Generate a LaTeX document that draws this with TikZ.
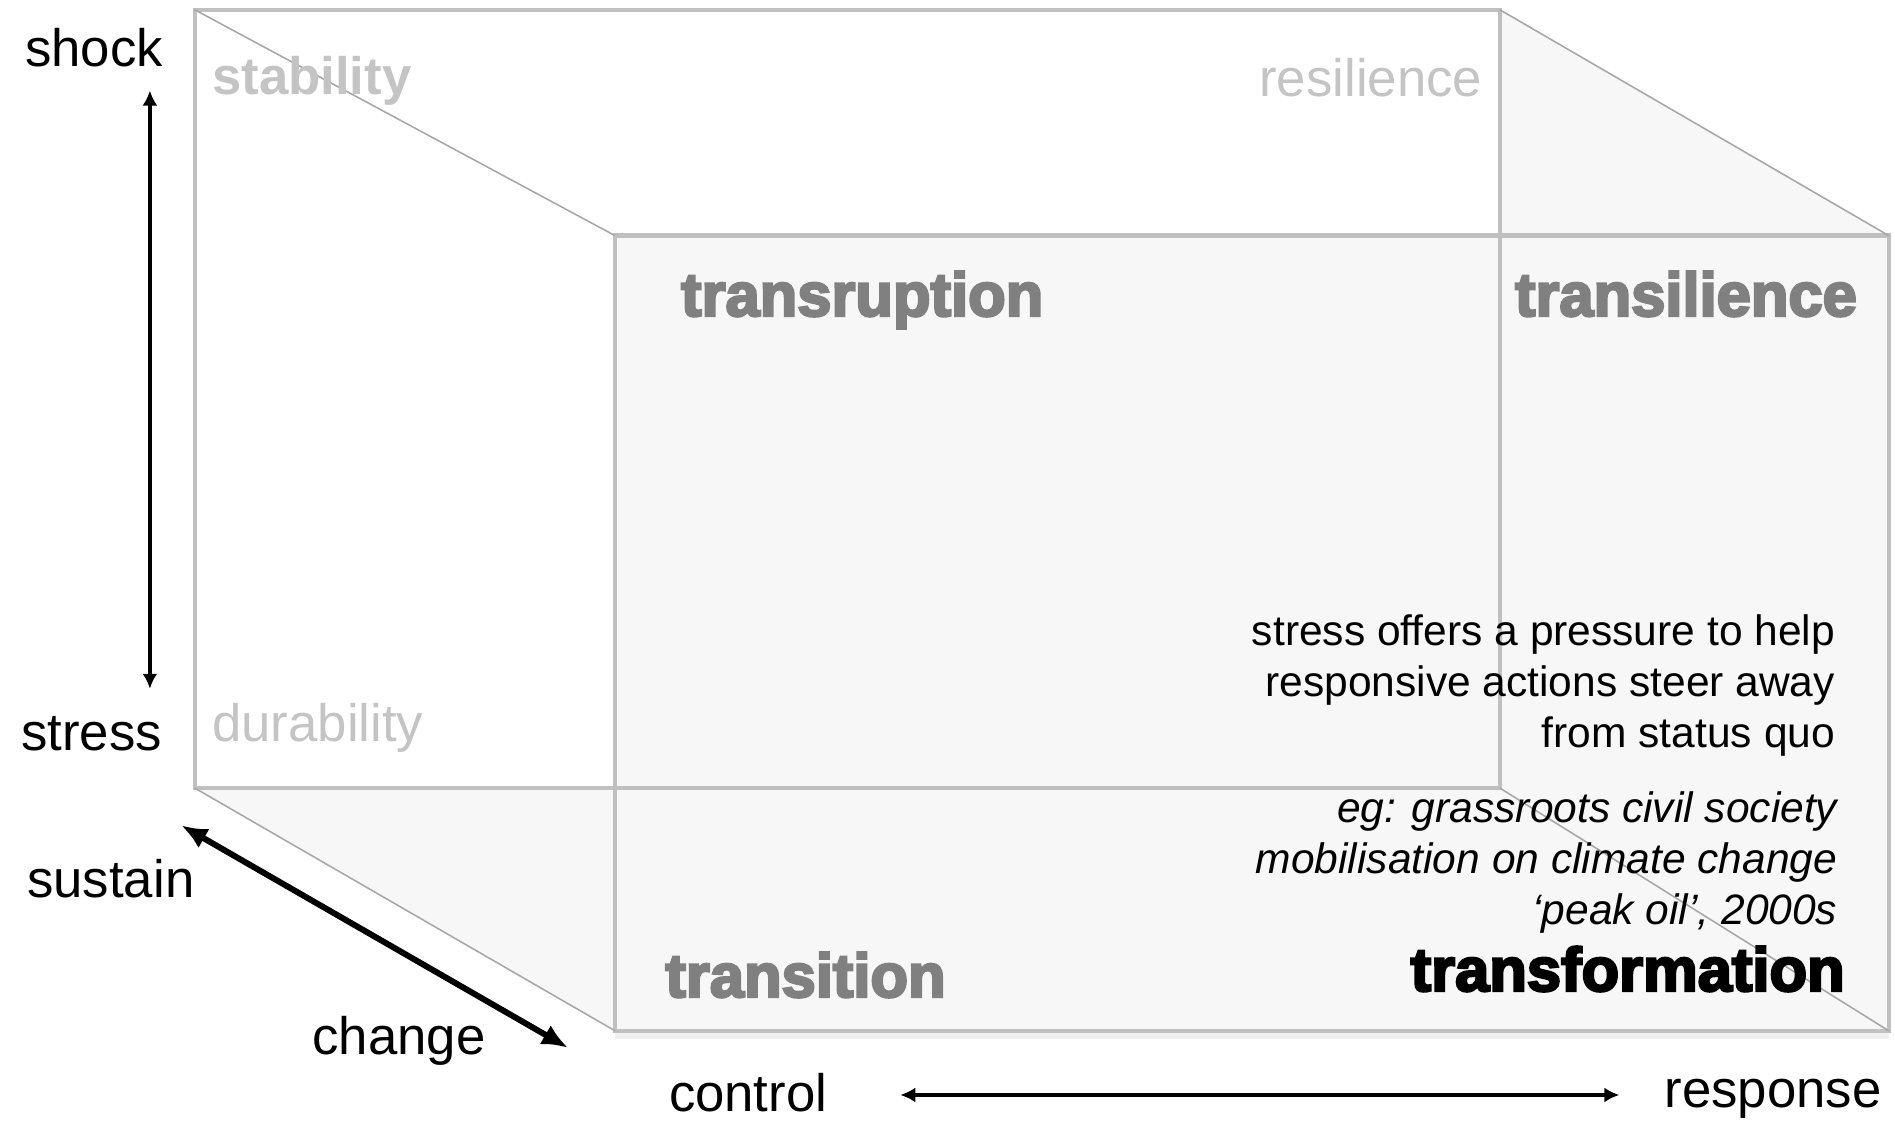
\documentclass[tikz,border=0pt]{standalone}
\usepackage{fontspec}
\setmainfont{Liberation Sans}
\newfontfamily\heavyfont[FakeBold=4]{Liberation Sans Bold}
\usetikzlibrary{arrows.meta}
\definecolor{edgegray}{HTML}{C0C0C0}
\definecolor{foldgray}{HTML}{A8A8A8}
\definecolor{facegray}{HTML}{F7F7F7}
\definecolor{shadegray}{HTML}{F0F0F0}
\definecolor{palegray}{HTML}{C4C4C4}
\definecolor{midgray}{HTML}{808080}
\tikzset{
  edge/.style={draw=edgegray, line width=1.1pt},
  frontedge/.style={draw=edgegray, line width=1.3pt},
  fold/.style={draw=foldgray, line width=0.45pt},
  thinaxis/.style={line width=1.1pt, {Latex[length=1.5mm,width=1.5mm]}-{Latex[length=1.5mm,width=1.5mm]}},
  thickaxis/.style={line width=1.7pt, {Latex[length=2.6mm,width=2.2mm]}-{Latex[length=2.6mm,width=2.2mm]}},
  axislabel/.style={inner sep=0pt, font=\fontsize{15}{18}\selectfont},
  cornerlabel/.style={inner sep=0pt, text=palegray, font=\fontsize{15}{18}\selectfont},
  bigterm/.style={inner sep=0pt, text=midgray, font=\heavyfont\fontsize{17.5}{21}\selectfont},
  note/.style={inner sep=0pt, anchor=base east, align=right},
}
\begin{document}
\begin{tikzpicture}
	\useasboundingbox (0,0) rectangle (18.95,11.21);
	% corners of the box
	\coordinate (btl) at (1.946,11.113);
	\coordinate (btr) at (14.997,11.113);
	\coordinate (bbr) at (14.997,3.33);
	\coordinate (bbl) at (1.946,3.33);
	\coordinate (ftl) at (6.151,8.853);
	\coordinate (ftr) at (18.889,8.853);
	\coordinate (fbr) at (18.889,0.901);
	\coordinate (fbl) at (6.151,0.901);
	% faint shadow under the box
	\fill[shadegray] (bbl)--(fbl)--([yshift=-0.8mm]fbl)--([yshift=-0.8mm]fbr)--(fbr)--cycle;
	% faces
	\fill[facegray] (btr)--(ftr)--(fbr)--(bbr)--cycle;
	\fill[facegray] (bbl)--(bbr)--(fbr)--(fbl)--cycle;
	\fill[facegray] (ftl) rectangle (fbr);
	% edges
	\draw[edge] (btl) rectangle (bbr);
	\draw[frontedge] (ftl) rectangle (fbr);
	\draw[fold] (btl)--(ftl);
	\draw[fold] (btr)--(ftr);
	\draw[fold] (bbl)--(fbl);
	\draw[fold] (bbr)--(fbr);
	% axes
	\node[axislabel, anchor=base west] (shock) at (0.245,10.54) {shock};
	\node[axislabel, anchor=base west] (stress) at (0.205,3.705) {stress};
	\node[axislabel, anchor=base west] (sustain) at (0.266,2.23) {sustain};
	\node[axislabel, anchor=base west] (change) at (3.118,0.66) {change};
	\node[axislabel, anchor=base west] (control) at (6.683,0.09) {control};
	\node[axislabel, anchor=base west] (response) at (16.64,0.13) {response};
	\coordinate (shockend) at (1.499,10.304);
	\coordinate (stressend) at (1.499,4.322);
	\coordinate (sustainend) at (1.813,2.956);
	\coordinate (changeend) at (5.68,0.732);
	\coordinate (controlend) at (9.003,0.26);
	\coordinate (responseend) at (16.194,0.26);
	\draw[thinaxis] (shockend)--(stressend);
	\draw[thickaxis] (sustainend)--(changeend);
	\draw[thinaxis] (controlend)--(responseend);
	% terms
	\node[cornerlabel, anchor=base west, font=\bfseries\fontsize{15}{18}\selectfont] (stability) at (2.115,10.26) {stability};
	\node[cornerlabel, anchor=base east] (resilience) at (14.828,10.243) {resilience};
	\node[cornerlabel, anchor=base west] (durability) at (2.115,3.793) {durability};
	\node[bigterm, anchor=base west] (transruption) at (6.804,8.05) {transruption};
	\node[bigterm, anchor=base west] (transilience) at (15.143,8.05) {transilience};
	\node[bigterm, anchor=base west] (transition) at (6.647,1.24) {transition};
	\node[bigterm, anchor=base east, text=black] (transformation) at (18.454,1.30) {transformation};
	% notes
	\node[note, font=\fontsize{12.1}{14.6}\selectfont] (stressnote) at (18.357,3.73) {stress offers a pressure to help\\responsive actions steer away\\from status quo};
	\node[note, font=\itshape\fontsize{12.1}{14.6}\selectfont] (examplenote) at (18.38,1.96) {eg: grassroots civil society\\mobilisation on climate change\\‘peak oil’, 2000s};
\end{tikzpicture}
\end{document}
